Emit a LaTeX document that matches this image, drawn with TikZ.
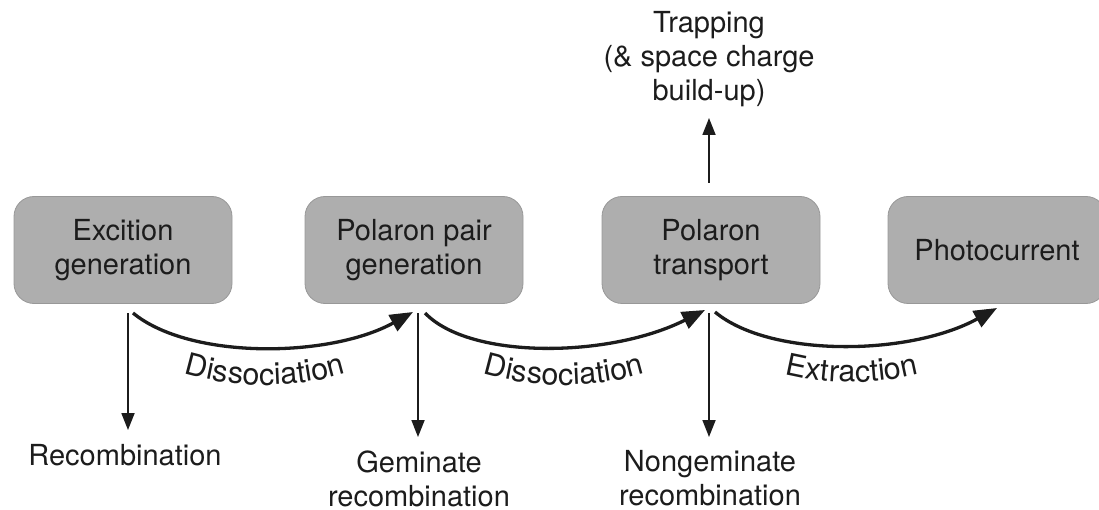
\documentclass[tikz,border=0pt]{standalone}
\usepackage{fontspec}
\setmainfont{TeX Gyre Heros}
\usetikzlibrary{arrows.meta,decorations.text}
\definecolor{boxgray}{RGB}{174,174,174}
\definecolor{boxedge}{RGB}{152,152,152}
\definecolor{ink}{RGB}{28,28,28}
\newcommand{\lblfont}{\fontsize{29}{34}\selectfont}
\newcommand{\arcfont}{\fontsize{30.5}{34}\selectfont}
\begin{document}
\begin{tikzpicture}[x=1pt,y=-1pt,
  stage/.style={draw=boxedge, line width=0.8pt, fill=boxgray, rounded corners=20pt,
    minimum width=218pt, minimum height=107pt, align=center, text=ink,
    font=\lblfont, inner sep=0pt},
  outcome/.style={align=center, text=ink, font=\lblfont, inner sep=0pt},
  flow/.style={line width=3.3pt, draw=ink, -{Triangle[length=23pt,width=18pt]}},
  loss/.style={line width=1.8pt, draw=ink, -{Triangle[length=17pt,width=13pt]}},
  arclabel/.style={decorate, decoration={text along path, text align=center,
    text={|\color{ink}\arcfont|#1}}}
]
\clip (0,0) rectangle (1099,510);

% process stages
\node[stage] (exc) at (123,250) {Excition\\generation};
\node[stage] (ppg) at (414,250) {Polaron pair\\generation};
\node[stage] (pt)  at (711,250) {Polaron\\transport};
\node[stage] (pc)  at (997,250) {Photocurrent};

% loss channels and side effects
\node[outcome] (trap)   at (709,59.5)  {Trapping\\(\& space charge\\build-up)};
\node[outcome] (rec)    at (125,455)   {Recombination};
\node[outcome] (gem)    at (419,478.5) {Geminate\\recombination};
\node[outcome] (nongem) at (710,478.5) {Nongeminate\\recombination};

% end points of the connectors
\coordinate (a1) at (133,313); \coordinate (b1) at (413,312);
\coordinate (a2) at (425,313); \coordinate (b2) at (705,310);
\coordinate (a3) at (715,312); \coordinate (b3) at (997,308);
\coordinate (d1) at (128,313); \coordinate (e1) at (128,430);
\coordinate (d2) at (418,313); \coordinate (e2) at (418,437);
\coordinate (d3) at (709,313); \coordinate (e3) at (709,437);
\coordinate (u1) at (709,183); \coordinate (v1) at (709,118);

% forward steps
\draw[flow] (a1) .. controls (190,360) and (330,358) .. (b1);
\draw[flow] (a2) .. controls (470,360) and (610,358) .. (b2);
\draw[flow] (a3) .. controls (770,358) and (910,356) .. (b3);

% step labels set along circular arcs below the steps
\path[arclabel=Dissociation] (146.7,358.8) arc[start angle=115, end angle=65, radius=280];
\path[arclabel=Dissociation] (445.7,358.8) arc[start angle=115, end angle=65, radius=280];
\path[arclabel=Extraction]   (733.7,355.8) arc[start angle=115, end angle=65, radius=280];

% losses
\draw[loss] (d1) -- (e1);
\draw[loss] (d2) -- (e2);
\draw[loss] (d3) -- (e3);
\draw[loss] (u1) -- (v1);
\end{tikzpicture}
\end{document}
